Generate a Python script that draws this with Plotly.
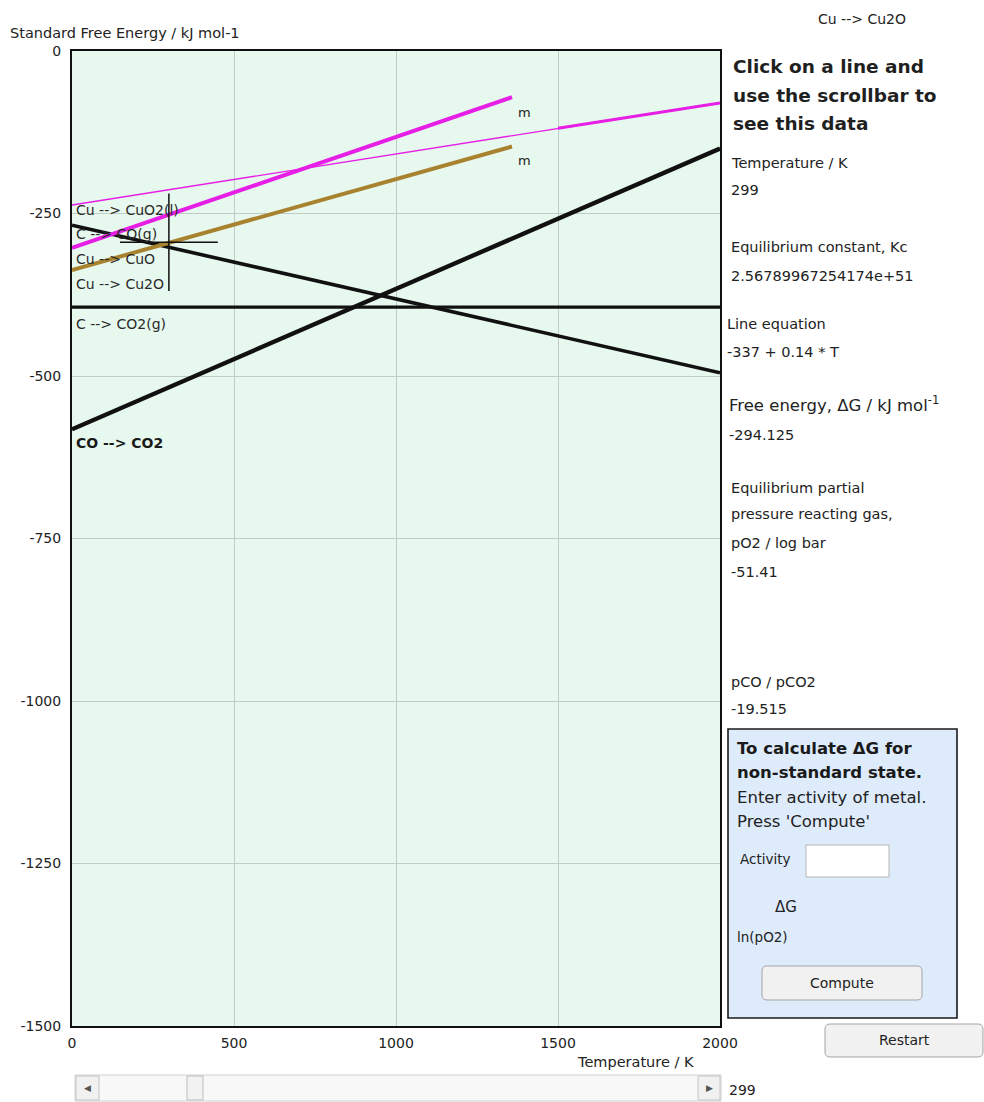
import plotly.graph_objects as go

# ---- data -------------------------------------------------------------
reactions = ["Cu --> CuO2(l)", "C --> CO(g)", "Cu --> CuO", "Cu --> Cu2O", "C --> CO2(g)", "CO --> CO2"]
temp_start = [0, 0, 0, 0, 0, 0]
temp_end = [2000, 2000, 1358, 1358, 2000, 2000]
dg_start = [-237, -268, -303, -337, -394, -582]
dg_end = [-80, -495, -71, -147, -394, -150]

# high-temperature section of the Cu --> CuO2(l) line
upper_temp = [1500, 2000]
upper_dg = [-119, -80]

# point picked with the scrollbar on the Cu --> Cu2O line
sel_reaction = "Cu --> Cu2O"
sel_temp = 299
sel_dg = -294.125
sel_kc = "2.56789967254174e+51"
sel_equation = "-337 + 0.14 * T"
sel_po2 = "-51.41"
sel_pco_ratio = "-19.515"

x_ticks = [0, 500, 1000, 1500, 2000]
y_ticks = [0, -250, -500, -750, -1000, -1250, -1500]

# ---- styling ----------------------------------------------------------
FONT = "DejaVu Sans"
INK = "#222222"
MAGENTA = "#E61EE6"
GOLD = "#A8822E"
BLACK = "#111111"
line_style = {
    "Cu --> CuO2(l)": (MAGENTA, 1.4),
    "C --> CO(g)": (BLACK, 3.6),
    "Cu --> CuO": (MAGENTA, 4),
    "Cu --> Cu2O": (GOLD, 4),
    "C --> CO2(g)": (BLACK, 3.2),
    "CO --> CO2": (BLACK, 4.4),
}

# plot-area edges in page pixels
L, R, T, B = 72, 720, 51, 1026


def fx(px):
    return (px - L) / (R - L)


def fy(py):
    return (B - py) / (B - T)


fig = go.Figure()

for name, t0, t1, g0, g1 in zip(reactions, temp_start, temp_end, dg_start, dg_end):
    color, width = line_style[name]
    fig.add_trace(go.Scatter(x=[t0, t1], y=[g0, g1], mode="lines", name=name,
                             line=dict(color=color, width=width),
                             hoverinfo="skip", showlegend=False))

fig.add_trace(go.Scatter(x=upper_temp, y=upper_dg, mode="lines",
                         line=dict(color=MAGENTA, width=3),
                         hoverinfo="skip", showlegend=False))

annotations = []


def text(px, py, s, size=14.5, anchor="left", color=INK, family=FONT):
    annotations.append(dict(x=fx(px), y=fy(py), xref="paper", yref="paper", text=s,
                            showarrow=False, xanchor=anchor, yanchor="middle",
                            font=dict(size=size, color=color, family=family)))


# axis titles
text(8, 33, "Standard Free Energy / kJ mol-1", size=14.5)
text(635, 1062, "Temperature / K", size=14.5, anchor="center")

# labels on the plot
label_rows = [210, 234, 259, 284, 324]
for name, py in zip(reactions[:5], label_rows):
    text(74, py, name, size=14, color="#2a2a2a")
text(74, 443, "<b>CO --> CO2</b>", size=14, color="#1a1a1a")
text(516, 113, "m", size=13)
text(516, 160, "m", size=13)

# selection readout panel
text(862, 19, sel_reaction, size=14, anchor="center")
text(731, 67, "<b>Click on a line and</b>", size=18.5, color="#1f1f1f")
text(731, 95, "<b>use the scrollbar to</b>", size=18.5, color="#1f1f1f")
text(731, 123, "<b>see this data</b>", size=18.5, color="#1f1f1f")
text(729, 163, "Temperature / K")
text(729, 190, str(sel_temp))
text(729, 247, "Equilibrium constant, Kc")
text(729, 276, sel_kc)
text(725, 324, "Line equation")
text(725, 352, sel_equation)
text(727, 404, "Free energy, \u0394G / kJ mol<sup>-1</sup>", size=16.5)
text(727, 435, f"{sel_dg:g}")
text(729, 488, "Equilibrium partial")
text(729, 514, "pressure reacting gas,")
text(729, 543, "pO2 / log bar")
text(729, 572, sel_po2)
text(729, 682, "pCO / pCO2")
text(729, 709, sel_pco_ratio)

# non-standard-state calculator box
text(735, 748, "<b>To calculate \u0394G for</b>", size=16.5, color="#1a1a1a")
text(735, 772, "<b>non-standard state.</b>", size=16.5, color="#1a1a1a")
text(735, 797, "Enter activity of metal.", size=16.5)
text(735, 821, "Press 'Compute'", size=16.5)
text(738, 859, "Activity", size=13.5)
text(786, 907, "\u0394G", size=15, anchor="center")
text(735, 937, "ln(pO2)", size=13.5)
text(842, 983, "Compute", size=14, anchor="center")
text(904, 1040, "Restart", size=14, anchor="center")

# scrollbar
text(87, 1088, "\u25C0", size=9, anchor="center", color="#555555")
text(709, 1088, "\u25B6", size=9, anchor="center", color="#555555")
text(727, 1090, str(sel_temp), size=14)


def rect(x0, y0, x1, y1, fill, line, width=1):
    return dict(type="rect", xref="paper", yref="paper", x0=fx(x0), x1=fx(x1),
                y0=fy(y1), y1=fy(y0), fillcolor=fill,
                line=dict(color=line, width=width), layer="above")


def rrect(x0, y0, x1, y1, r, fill, line, width=1):
    p = lambda x, y: f"{fx(x):.5f},{fy(y):.5f}"
    d = (f"M {p(x0 + r, y0)} L {p(x1 - r, y0)} Q {p(x1, y0)} {p(x1, y0 + r)} "
         f"L {p(x1, y1 - r)} Q {p(x1, y1)} {p(x1 - r, y1)} "
         f"L {p(x0 + r, y1)} Q {p(x0, y1)} {p(x0, y1 - r)} "
         f"L {p(x0, y0 + r)} Q {p(x0, y0)} {p(x0 + r, y0)} Z")
    return dict(type="path", xref="paper", yref="paper", path=d, fillcolor=fill,
                line=dict(color=line, width=width), layer="above")


shapes = [
    # crosshair on the selected point
    dict(type="line", xref="x", yref="y", x0=sel_temp - 151, x1=sel_temp + 151,
         y0=sel_dg, y1=sel_dg, line=dict(color=BLACK, width=1.5)),
    dict(type="line", xref="x", yref="y", x0=sel_temp, x1=sel_temp,
         y0=sel_dg - 75, y1=sel_dg + 75, line=dict(color=BLACK, width=1.5)),
    # calculator panel
    rect(728, 729, 957, 1018, "#DDEBFB", "#1a1a1a", 1.6),
    rect(806, 845, 889, 877, "#FFFFFF", "#B5B5B5", 1),
    rrect(762, 966, 922, 1000, 5, "#F1F1F1", "#A5A5A5", 1),
    rrect(825, 1024, 983, 1057, 5, "#F1F1F1", "#A5A5A5", 1),
    # scrollbar track, arrows and thumb
    rect(75, 1075, 721, 1101, "#F8F8F8", "#D0D0D0", 1),
    rect(76, 1076, 99, 1100, "#F1F1F1", "#C4C4C4", 1),
    rect(698, 1076, 720, 1100, "#F1F1F1", "#C4C4C4", 1),
    rect(187, 1076, 203, 1100, "#F2F2F2", "#BDBDBD", 1),
]

fig.update_layout(
    width=984, height=1102, autosize=False,
    margin=dict(l=L, r=984 - R, t=T, b=1102 - B, pad=0),
    paper_bgcolor="#FFFFFF", plot_bgcolor="#E7F8EE",
    font=dict(family=FONT, color=INK),
    showlegend=False,
    xaxis=dict(range=[0, 2000], tickvals=x_ticks, ticktext=[str(v) for v in x_ticks],
               showgrid=True, gridcolor="#C3CBC6", gridwidth=1,
               showline=True, linecolor=BLACK, linewidth=2, mirror=True,
               zeroline=False, ticks="outside", ticklen=3, tickcolor="rgba(0,0,0,0)",
               tickfont=dict(size=14, color=INK, family=FONT), fixedrange=True),
    yaxis=dict(range=[-1500, 0], tickvals=y_ticks, ticktext=[str(v) for v in y_ticks],
               showgrid=True, gridcolor="#C3CBC6", gridwidth=1,
               showline=True, linecolor=BLACK, linewidth=2, mirror=True,
               zeroline=False, ticks="outside", ticklen=6, tickcolor="rgba(0,0,0,0)",
               tickfont=dict(size=14, color=INK, family=FONT), fixedrange=True),
    annotations=annotations,
    shapes=shapes,
)

fig.write_html("out.html")
